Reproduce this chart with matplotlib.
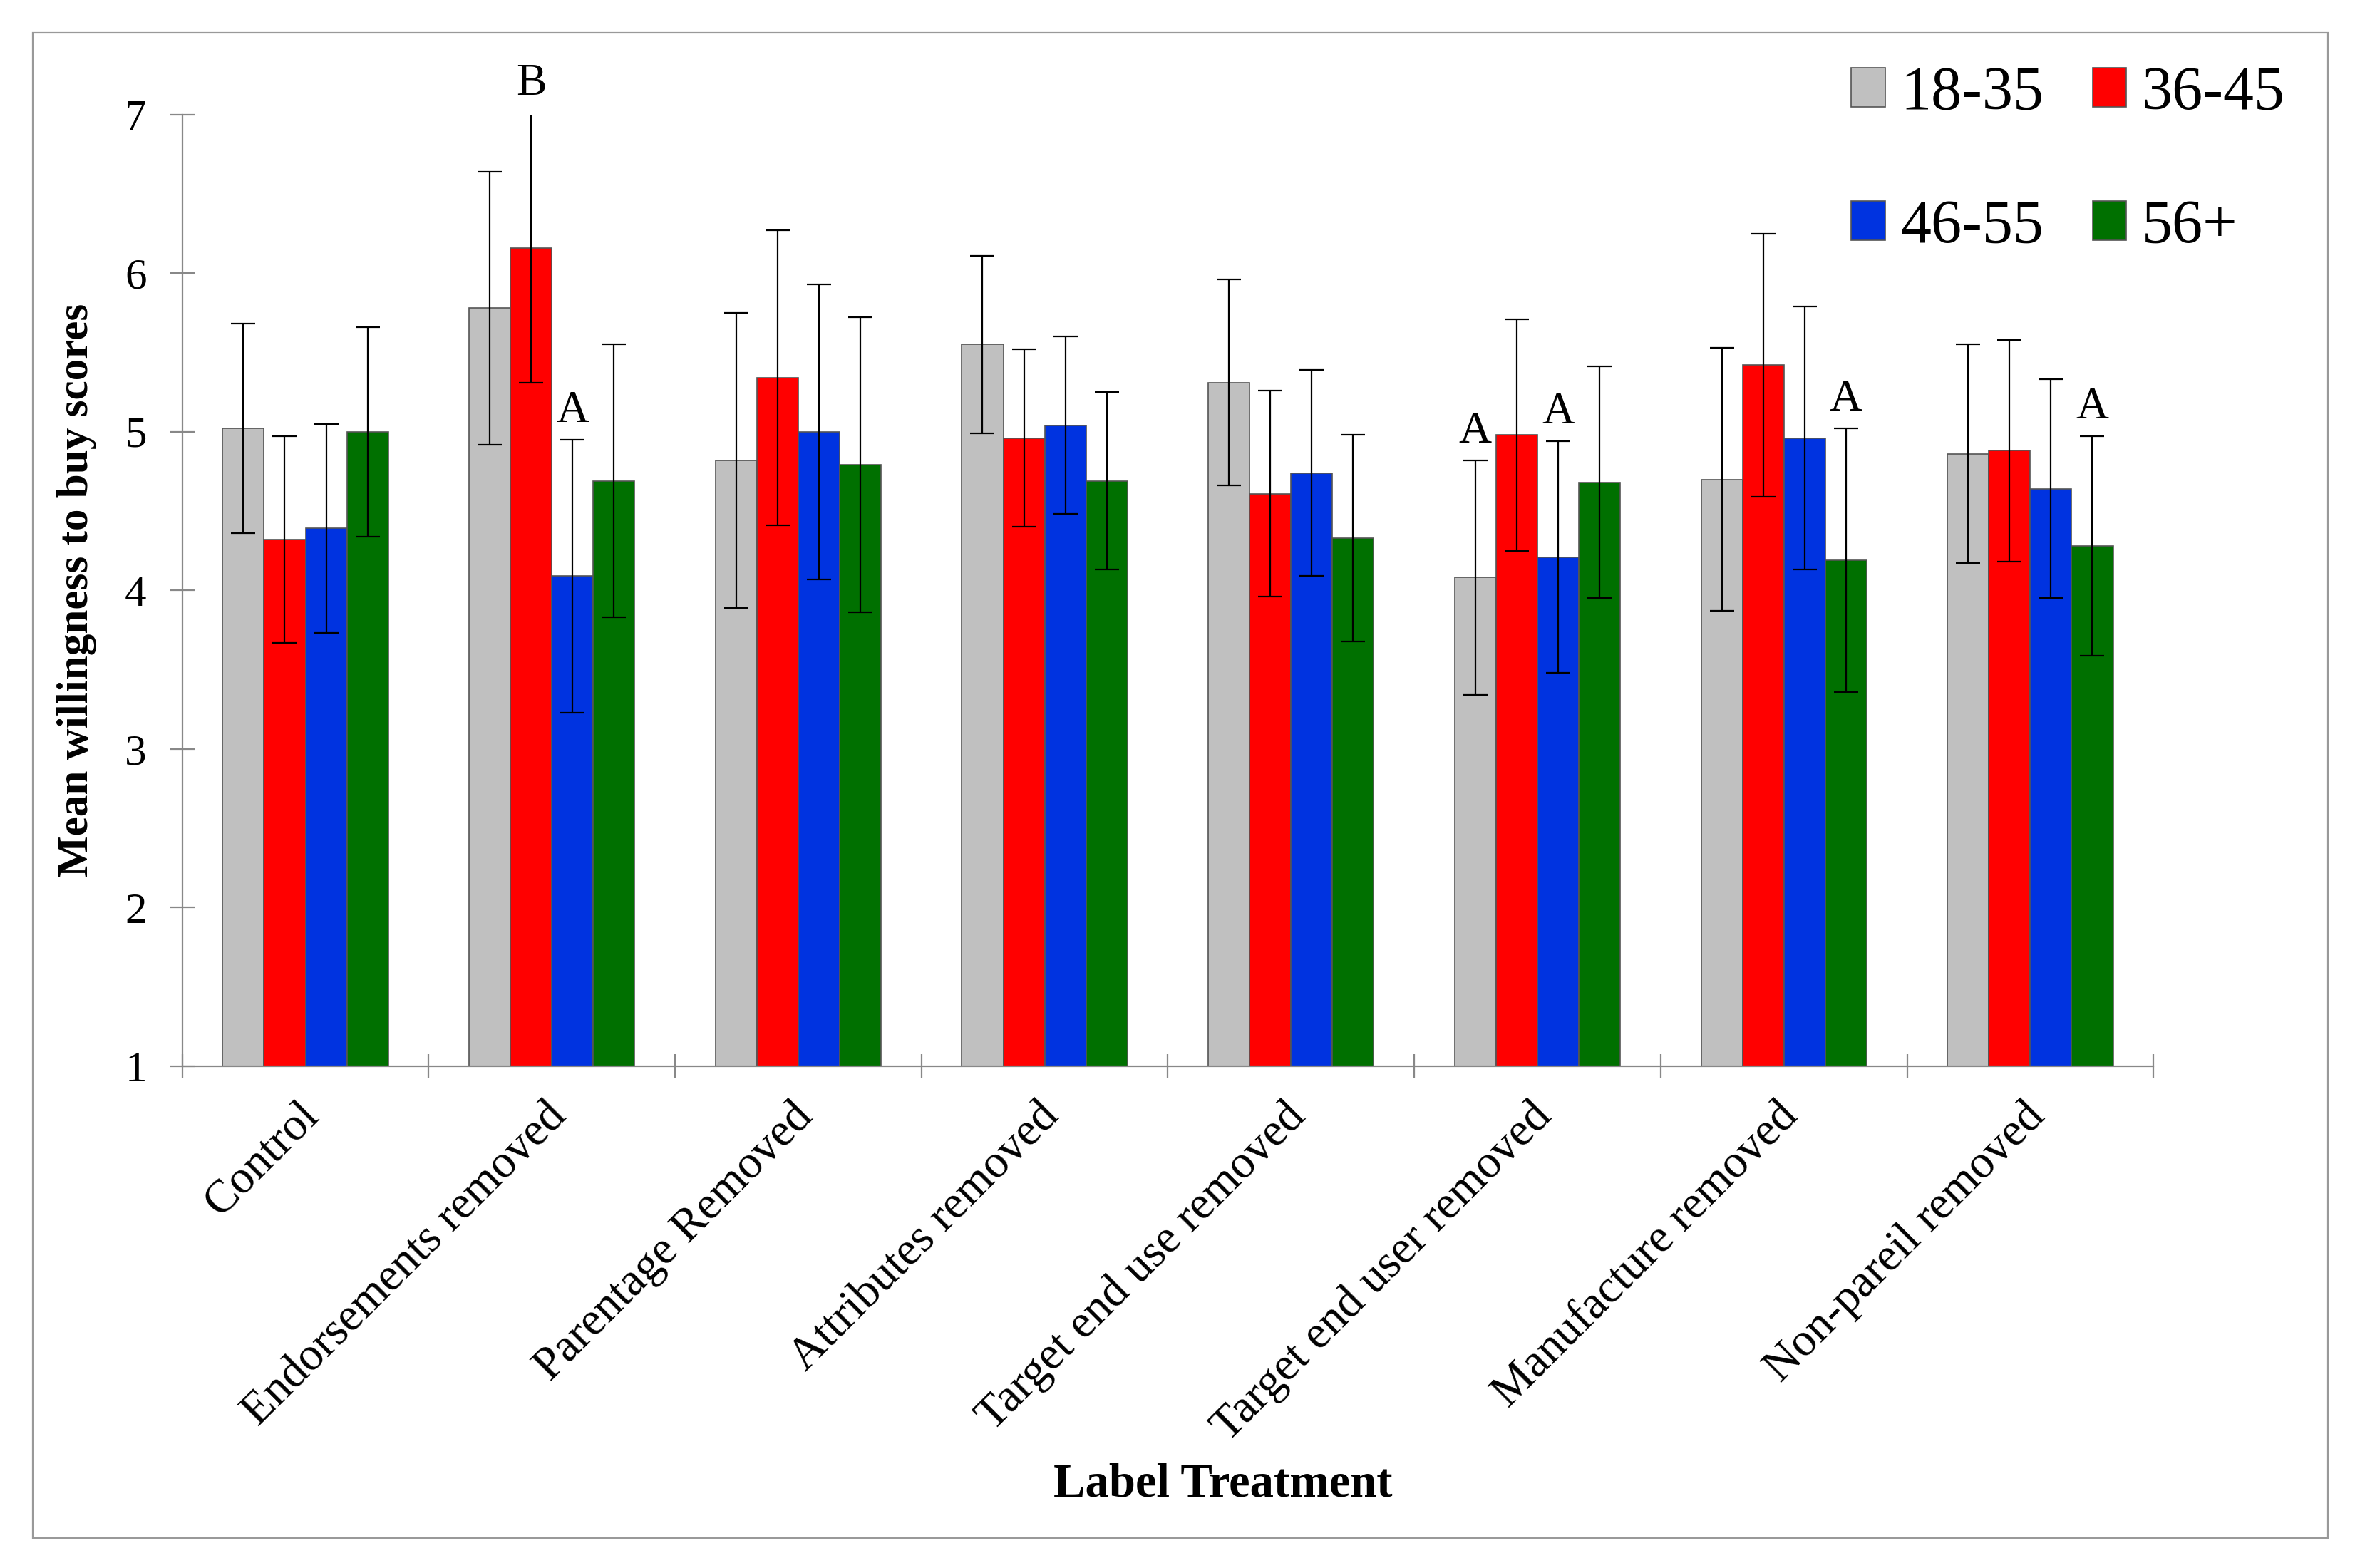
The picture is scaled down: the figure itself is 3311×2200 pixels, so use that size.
#!/usr/bin/env python3
# Mean willingness to buy by label treatment and age group

import numpy as np
import matplotlib
matplotlib.use("Agg")
import matplotlib.pyplot as plt
from matplotlib.patches import Rectangle

treatments = ["Control", "Endorsements removed", "Parentage Removed",
              "Attributes removed", "Target end use removed",
              "Target end user removed", "Manufacture removed",
              "Non-pareil removed"]
groups = ["18-35", "36-45", "46-55", "56+"]

means_18_35 = [5.02, 5.78, 4.82, 5.55, 5.31, 4.08, 4.70, 4.86]
means_36_45 = [4.32, 6.16, 5.34, 4.96, 4.61, 4.98, 5.42, 4.88]
means_46_55 = [4.39, 4.09, 5.00, 5.04, 4.74, 4.21, 4.96, 4.64]
means_56_up = [5.00, 4.69, 4.79, 4.69, 4.33, 4.68, 4.19, 4.28]

err_18_35 = [0.66, 0.86, 0.93, 0.56, 0.65, 0.74, 0.83, 0.69]
err_36_45 = [0.65, 0.85, 0.93, 0.56, 0.65, 0.73, 0.83, 0.70]
err_46_55 = [0.66, 0.86, 0.93, 0.56, 0.65, 0.73, 0.83, 0.69]
err_56_up = [0.66, 0.86, 0.93, 0.56, 0.65, 0.73, 0.83, 0.69]

# significance letters: (treatment index, group index, letter)
letters = [(1, 1, "B"), (1, 2, "A"), (5, 0, "A"), (5, 2, "A"),
           (6, 3, "A"), (7, 3, "A")]

all_means = [means_18_35, means_36_45, means_46_55, means_56_up]
all_errs = [err_18_35, err_36_45, err_46_55, err_56_up]
colors = ["#C0C0C0", "#FF0000", "#0033E0", "#007000"]

plt.rcParams["font.family"] = ["Liberation Serif", "DejaVu Serif"]

fig = plt.figure(figsize=(16.56, 11), dpi=200)
ax = fig.add_axes([0.0772, 0.320, 0.835, 0.607])

x = np.arange(len(treatments))
w = 0.168
bars = []
for i in range(4):
    pos = x + (i - 1.5) * w
    b = ax.bar(pos, all_means[i], width=w, bottom=0, color=colors[i],
               edgecolor="#555555", linewidth=0.6, label=groups[i], zorder=2)
    bars.append(b)
    ax.errorbar(pos, all_means[i], yerr=all_errs[i], fmt="none",
                ecolor="black", elinewidth=0.8, capsize=6, capthick=0.8,
                zorder=3)

for t, g, s in letters:
    px = x[t] + (g - 1.5) * w
    top = all_means[g][t] + all_errs[g][t]
    ax.text(px, top + 0.05, s, ha="center", va="bottom", fontsize=23)

ax.set_xlim(-0.5, len(treatments) - 0.5)
ax.set_ylim(1, 7)
ax.set_yticks(range(1, 8))
ax.set_xticks(np.arange(len(treatments) + 1) - 0.5)
ax.set_xticklabels([])
ax.tick_params(axis="both", direction="inout", length=12, width=0.8,
               color="#888888", labelsize=22)
ax.tick_params(axis="y", pad=12)
for t_i, name in enumerate(treatments):
    ax.text(x[t_i] - 0.03, -0.03, name, rotation=45, ha="right", va="top",
            rotation_mode="anchor", fontsize=23.5,
            transform=ax.get_xaxis_transform())

for s in ["top", "right"]:
    ax.spines[s].set_visible(False)
for s in ["left", "bottom"]:
    ax.spines[s].set_color("#888888")
    ax.spines[s].set_linewidth(0.8)

ax.set_ylabel("Mean willingness to buy scores", fontsize=22,
              fontweight="bold", labelpad=14)
fig.text(0.518, 0.053, "Label Treatment", ha="center", va="center",
         fontsize=24, fontweight="bold")

# legend filled column-wise, so reorder to read row-wise
order = [0, 2, 1, 3]
fig.legend([bars[k] for k in order], [groups[k] for k in order],
           loc="upper right", bbox_to_anchor=(0.968, 0.958), ncol=2,
           frameon=False, fontsize=31, handlelength=0.55, handleheight=0.6,
           handletextpad=0.25, columnspacing=0.8, labelspacing=1.25,
           borderpad=0, borderaxespad=0)

fig.patches.append(Rectangle((0.014, 0.019), 0.972, 0.960,
                             transform=fig.transFigure, fill=False,
                             edgecolor="#999999", linewidth=0.8))

fig.savefig("out.png", dpi=200)
